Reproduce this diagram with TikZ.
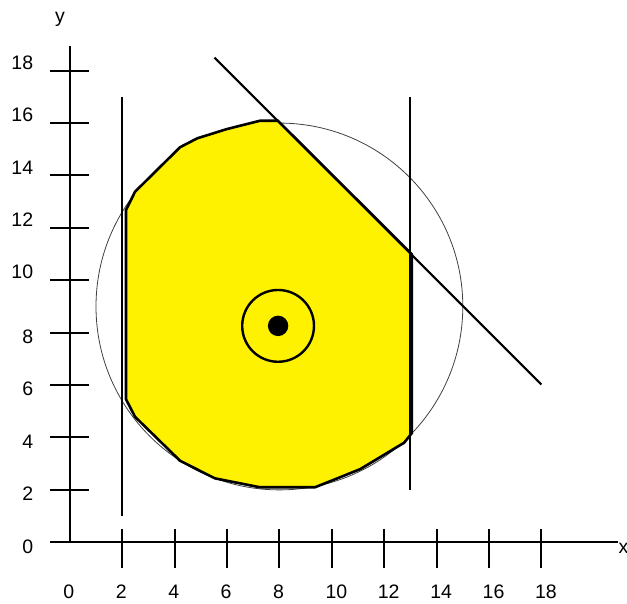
\documentclass[tikz,border=0pt]{standalone}
\usepackage{fontspec}
\setmainfont{Liberation Sans}
\begin{document}
\begin{tikzpicture}[x=26.2pt,y=26.2pt,
  axisline/.style={line width=2pt,black},
  guide/.style={line width=2pt,black},
  outline/.style={line width=2.6pt,black,fill=yellow},
  thincirc/.style={line width=0.8pt,black!75},
  ring/.style={line width=2.4pt,black},
  lbl/.style={inner sep=0pt,font=\fontsize{19.5}{22}\selectfont}]
\useasboundingbox (-2.664,-2.317) rectangle (21.267,20.698);

% big circle
\node (C) at (8,9) {};
\draw[thincirc] (C.center) circle[radius=7];

% yellow region
\draw[outline] (2.145,12.68) -- (2.49,13.38) -- (4.21,15.08) -- (4.87,15.42)
  -- (5.99,15.77) -- (7.26,16.09) -- (7.94,16.09) -- (13.05,11.0)
  -- (13.05,4.16) -- (12.76,3.80) -- (11.08,2.79) -- (9.36,2.10)
  -- (7.26,2.10) -- (5.54,2.44) -- (4.21,3.11) -- (2.49,4.79)
  -- (2.145,5.46) -- cycle;

% inner ring and dot
\node (P) at (7.95,8.26) {};
\draw[ring] (P.center) circle[radius=1.37];
\fill[black] (P.center) circle[radius=0.39];

% constraint lines
\coordinate (L1a) at (2,17); \coordinate (L1b) at (2,1);
\coordinate (L2a) at (13,17); \coordinate (L2b) at (13,2);
\coordinate (L3a) at (5.52,18.5); \coordinate (L3b) at (18,6.02);
\draw[guide] (L1a) -- (L1b);
\draw[guide] (L2a) -- (L2b);
\draw[guide] (L3a) -- (L3b);

% axes
\coordinate (O) at (0,0);
\coordinate (Xs) at (-0.756,0);
\coordinate (Xe) at (20.91,0);
\coordinate (Ye) at (0,18.94);
\draw[axisline] (Xs) -- (Xe);
\draw[axisline] (O) -- (Ye);

% ticks
\foreach \v in {0,2,...,18} {
  \draw[axisline] (-0.756,\v) -- (0.733,\v);
}
\foreach \v in {2,4,...,18} {
  \draw[axisline] (\v,0.508) -- (\v,-0.98);
}

% y tick labels
\foreach \v in {10,12,...,18} {
  \node[lbl,anchor=base east] (yl\v) at (-1.393,\v+0.05) {\v};
}
\foreach \v in {0,2,...,8} {
  \node[lbl,anchor=base east] (yl\v) at (-1.393,\v-0.41) {\v};
}
% x tick labels
\foreach \v in {0,2,...,18} {
  \node[lbl,anchor=base west] (xl\v) at (\v-0.248,-2.137) {\v};
}

% axis names
\node[lbl,anchor=base] (ylab) at (-0.374,19.82) {y};
\node[lbl,anchor=base west] (xlab) at (20.94,-0.41) {x};
\end{tikzpicture}
\end{document}
